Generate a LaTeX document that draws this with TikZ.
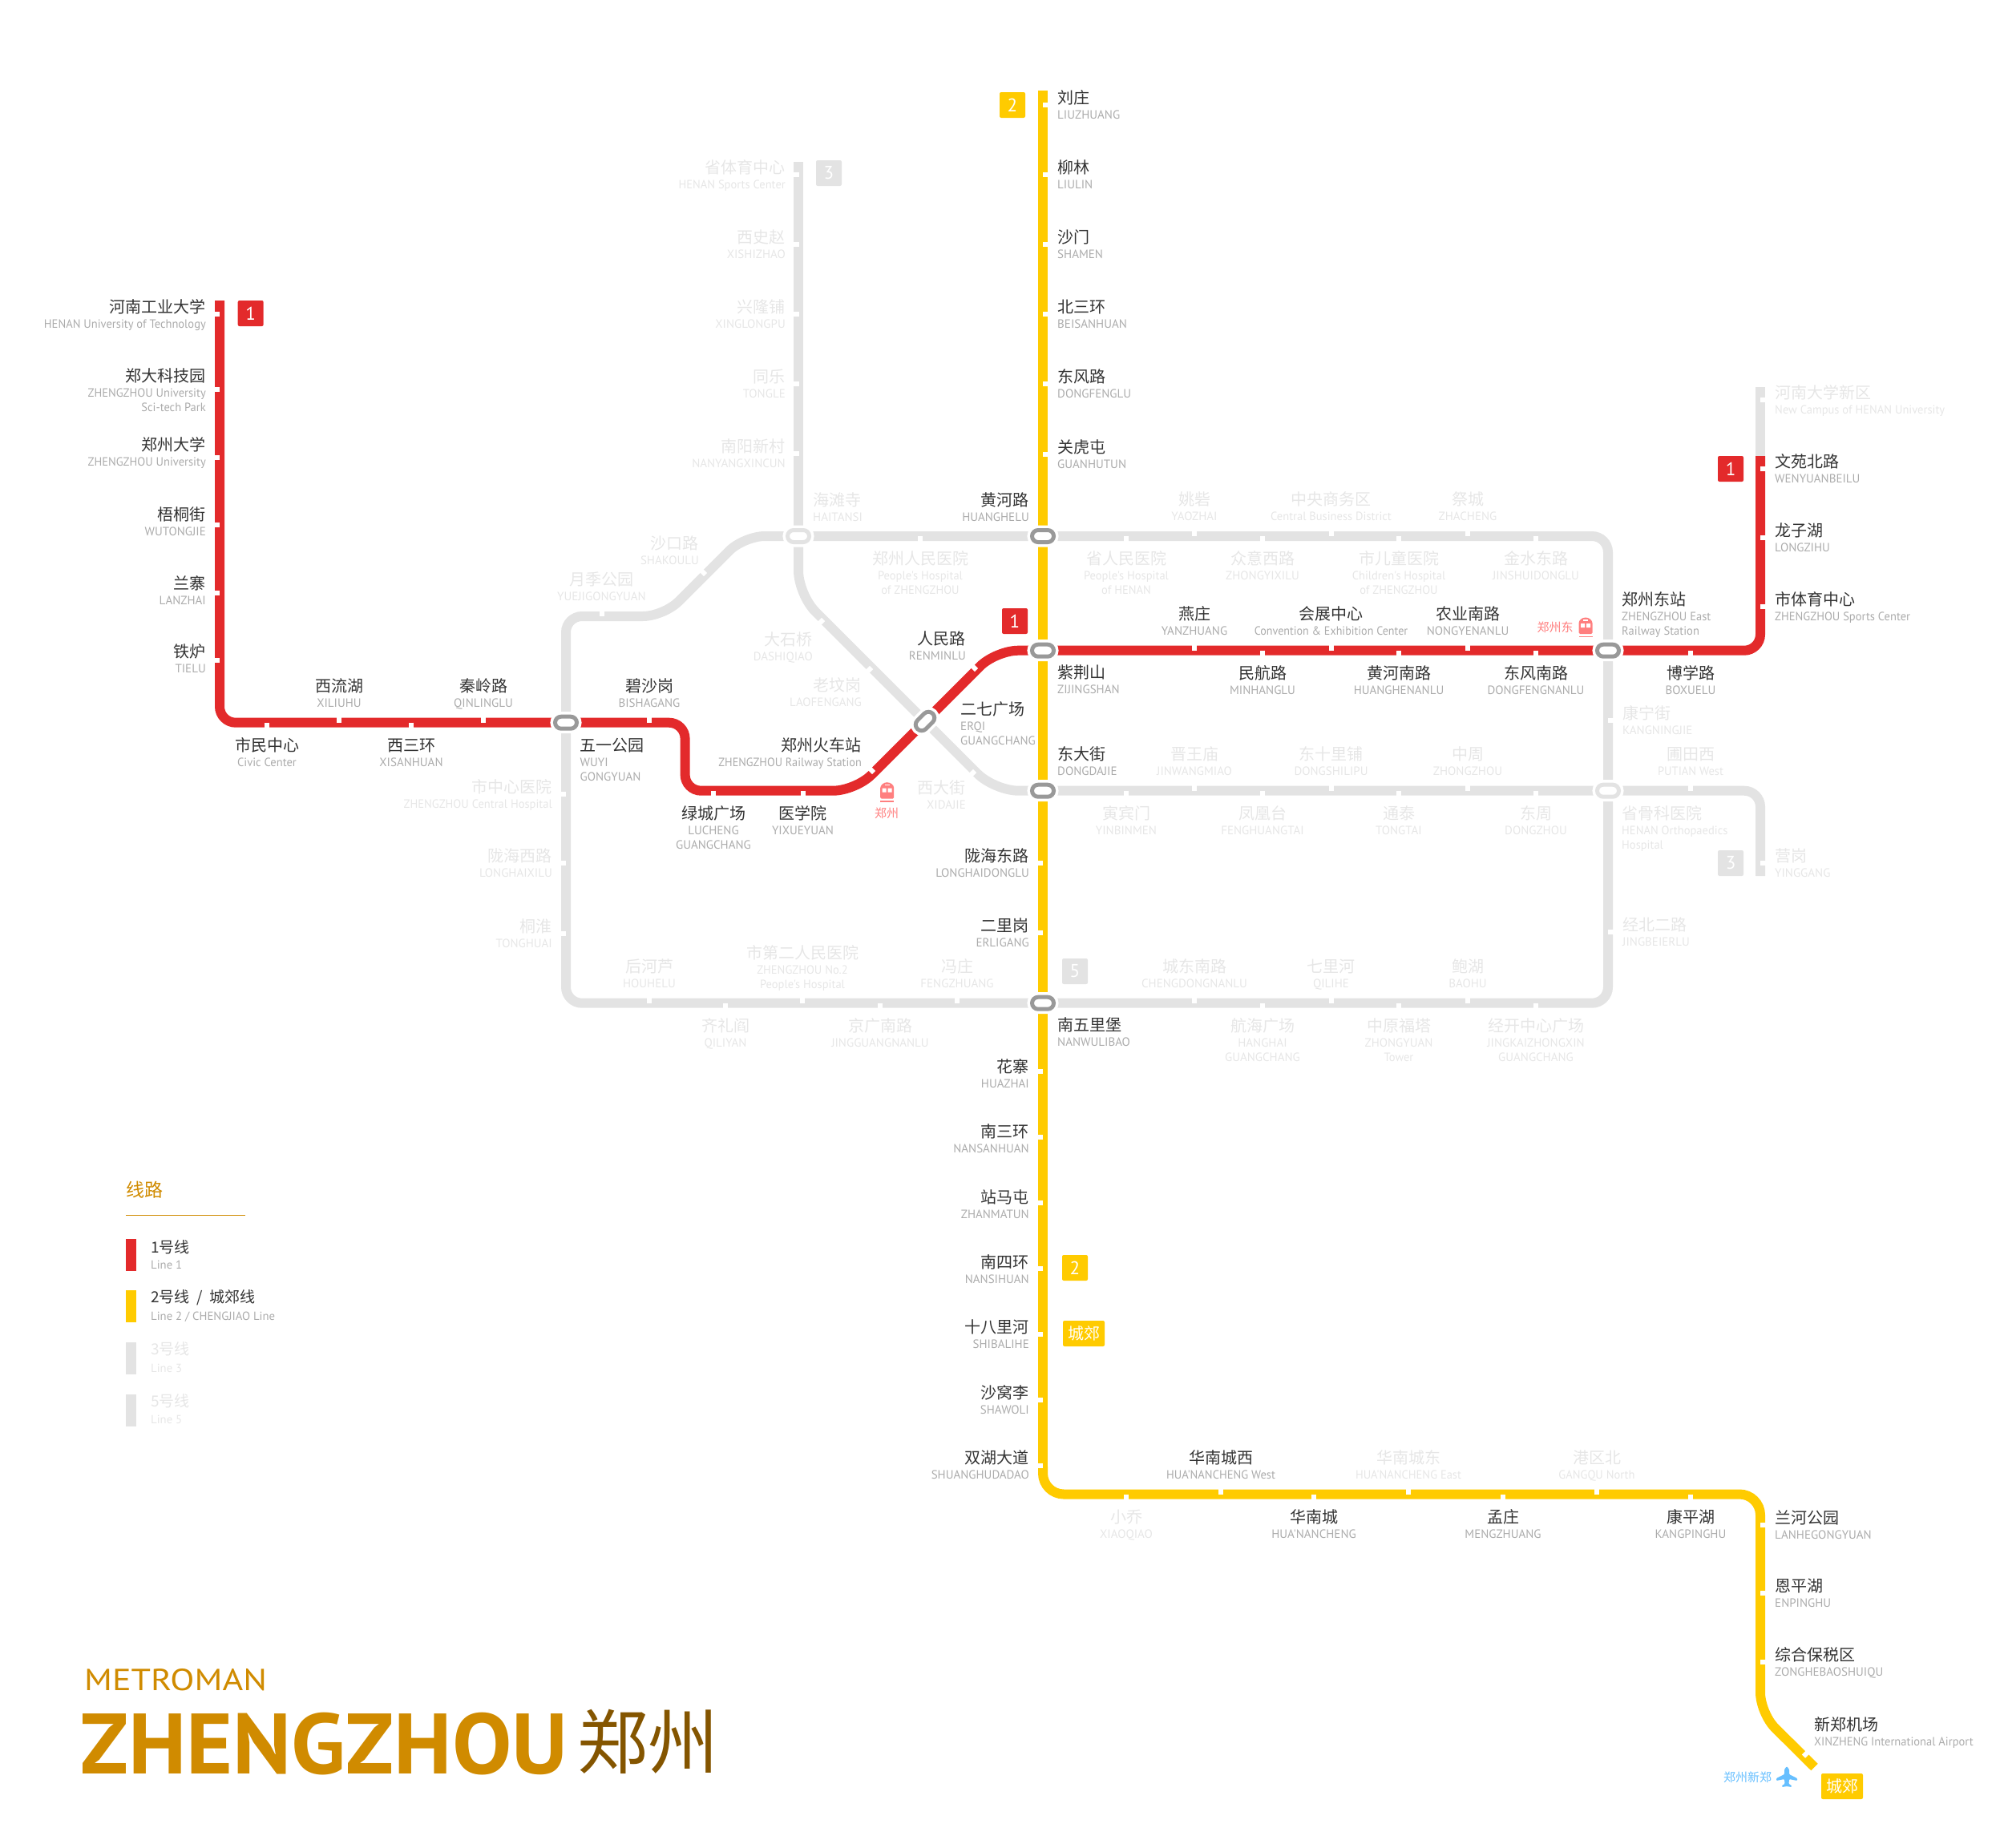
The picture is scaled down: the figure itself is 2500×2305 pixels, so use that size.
\documentclass[tikz,border=0pt]{standalone}
\usepackage{graphicx}
\usepackage{fontspec}
\newfontfamily\zhfont{Noto Sans CJK SC}
\newfontfamily\enfont{PT Sans}
\definecolor{lred}{HTML}{E32A2B}
\definecolor{lyel}{HTML}{FFCB00}
\definecolor{lgray}{HTML}{E3E3E3}
\definecolor{rgray}{HTML}{999999}
\definecolor{txta}{HTML}{333333}
\definecolor{txtb}{HTML}{ABABAB}
\definecolor{txtf}{HTML}{E6E6E6}
\definecolor{orng}{HTML}{D08B00}
\definecolor{brwn}{HTML}{845500}
\definecolor{pinkc}{HTML}{FF7F7F}
\definecolor{skyc}{HTML}{66BFFF}
\tikzset{
  route/.style={line width=12pt,rounded corners=20pt,line cap=butt},
  tickmark/.style={white,line width=6pt},
  ringa/.style={draw=rgray,fill=white,line width=5pt,minimum width=27pt,minimum height=15pt,inner sep=0pt,rounded corners=7.5pt,
     preaction={draw=white,line width=12pt}},
  ringf/.style={ringa,draw=lgray},
  cna/.style={inner sep=0pt,text=txta,font=\zhfont\fontsize{20}{24}\selectfont,text height=20pt,text depth=3pt},
  cnf/.style={cna,text=txtf},
  ena/.style={inner sep=0pt,text=txtb,font=\enfont\fontsize{15}{18}\selectfont,text height=11pt,text depth=0pt},
  enf/.style={ena,text=txtf},
  badge/.style={inner sep=0pt,minimum width=32pt,minimum height=32pt,rounded corners=2pt,text=white,font=\enfont\fontsize{23}{26}\selectfont},
  badgec/.style={inner sep=0pt,minimum width=52pt,minimum height=32pt,rounded corners=2pt,text=white,fill=lyel,font=\zhfont\fontsize{20}{24}\selectfont},
  legbar/.style={draw=none,inner sep=0pt,minimum width=13pt,minimum height=40pt},
}
\newcommand\nr[1]{\scalebox{.968}[1]{#1}}
\newcounter{lc}
% style, anchor, x, ycn, CN, EN, EN2
\newcommand\lbl[7]{\stepcounter{lc}%
  \node[cn#1,anchor=#2] (c\thelc) at (#3,#4) {#5};%
  \node[en#1,anchor=#2] (e\thelc) at (#3,#4+22) {#6};%
  \def\tmpa{#7}\ifx\tmpa\empty\else\node[en#1,anchor=#2] (g\thelc) at (#3,#4+40) {#7};\fi}
\newcommand\Up[6][]{\draw[tickmark] (#3,#4) -- ++(0,-7);\lbl{#2}{center}{#3}{#4-46.7}{#5}{#6}{#1}}
\newcommand\Dn[6][]{\draw[tickmark] (#3,#4) -- ++(0,7);\lbl{#2}{center}{#3}{#4+27}{#5}{#6}{#1}}
\newcommand\Rt[6][]{\draw[tickmark] (#3,#4) -- ++(7,0);\lbl{#2}{west}{#3+18}{#4-10.5}{#5}{#6}{#1}}
\newcommand\Lt[6][]{\draw[tickmark] (#3,#4) -- ++(-7,0);\lbl{#2}{east}{#3-17}{#4-10.5}{#5}{#6}{#1}}
% left side with separate label height: style, x, tick y, CN y, CN, EN
\newcommand\LtX[7][]{\draw[tickmark] (#3,#4) -- ++(-7,0);\lbl{#2}{east}{#3-17}{#5}{#6}{#7}{#1}}
\newcommand\train[2]{%
  \fill[pinkc,rounded corners=1.5pt] (#1-8.5,#2+10) -- (#1-8.5,#2-2) arc[start angle=180,end angle=0,radius=8.5pt] -- (#1+8.5,#2+10) -- cycle;
  \fill[white] (#1-6,#2-3) rectangle (#1-1,#2+2) (#1+1,#2-3) rectangle (#1+6,#2+2);
  \fill[white] (#1-3,#2-8) rectangle (#1+3,#2-6.5);
  \fill[pinkc] (#1-8.5,#2+12.5) rectangle (#1+8.5,#2+14);}
\begin{document}
\begin{tikzpicture}[x=1pt,y=-1pt]
\useasboundingbox (0,0) rectangle (2500,2305);
% named way points
\coordinate (hh) at (1301,669);
\coordinate (rm) at (1301,811.7);
\coordinate (dd) at (1301,986.7);
\coordinate (nw) at (1301,1251.7);
\coordinate (wy) at (706,901.7);
\coordinate (ht) at (996,669);
\coordinate (eq) at (1154,900);
\coordinate (ze) at (2006,811.7);
\coordinate (pt) at (2006,986.7);
% grey lines
\draw[route,lgray] (ht) -- (996,202);
\draw[route,lgray] (ht) [rounded corners=30pt] -- (996,742) -- (eq) -- (1240.7,986.7) -- (dd) -- (pt) [rounded corners=20pt] -- (2196,986.7) -- (2196,1093);
\draw[route,lgray] (wy) -- (706,769) [rounded corners=26pt] -- (828,769) -- (928,669) -- (ht) -- (hh) [rounded corners=20pt] -- (2006,669) -- (pt) -- (2006,1251.7) -- (nw) -- (706,1251.7) -- (wy);
\draw[route,lgray] (2196,569) -- (2196,483);
% line 2
\draw[route,lyel,rounded corners=0pt] (1301,113) -- (hh) -- (rm) -- (dd) -- (nw) -- (1301,1830);
\draw[route,lyel,rounded corners=26pt] (1301,1830) -- (1301,1864.5) -- (2196,1864.5) -- (2196,2138) -- (2263.5,2205);
% line 1
\draw[route,lred] (274,375) -- (274,901.7) -- (wy) -- (854.6,901.7) -- (854.6,986.7) [rounded corners=28pt] -- (1067.3,986.7) -- (eq) -- (1242.3,811.7) -- (rm) -- (ze) [rounded corners=20pt] -- (2196,811.7) -- (2196,569);
% line 1 stations
\LtX{a}{274}{392}{382}{河南工业大学}{\nr{HENAN University of Technology}}
\LtX[\nr{Sci-tech Park}]{a}{274}{486}{468.3}{郑大科技园}{\nr{ZHENGZHOU University}}
\LtX{a}{274}{571}{554}{郑州大学}{\nr{ZHENGZHOU University}}
\LtX{a}{274}{655}{640.5}{梧桐街}{WUTONGJIE}
\LtX{a}{274}{740}{726.5}{兰寨}{LANZHAI}
\LtX{a}{274}{824.3}{812.3}{铁炉}{TIELU}
\Dn{a}{333}{901.7}{市民中心}{\nr{Civic Center}}
\Up{a}{423}{901.7}{西流湖}{XILIUHU}
\Dn{a}{513}{901.7}{西三环}{XISANHUAN}
\Up{a}{603}{901.7}{秦岭路}{QINLINGLU}
\lbl{a}{west}{723.5}{929}{五一公园}{WUYI}{GONGYUAN}
\Up{a}{810}{901.7}{碧沙岗}{BISHAGANG}
\Dn[GUANGCHANG]{a}{890}{986.7}{绿城广场}{LUCHENG}
\Dn{a}{1001.5}{986.7}{医学院}{YIXUEYUAN}
\draw[tickmark] (1090,964) -- ++(-5,-5);
\lbl{a}{east}{1075}{929}{郑州火车站}{\scalebox{.95}[1]{ZHENGZHOU Railway Station}}{}
\draw[tickmark] (1218,836) -- ++(-5,-5);
\lbl{a}{east}{1205}{796}{人民路}{RENMINLU}{}
\lbl{a}{west}{1198}{884}{二七广场}{ERQI}{GUANGCHANG}
\lbl{a}{west}{1319}{838}{紫荆山}{ZIJINGSHAN}{}
\Up{a}{1490}{811.7}{燕庄}{YANZHUANG}
\Up{a}{1660.5}{811.7}{会展中心}{\scalebox{.94}[1]{Convention \& Exhibition Center}}
\Up{a}{1831}{811.7}{农业南路}{NONGYENANLU}
\Dn{a}{1575}{811.7}{民航路}{MINHANGLU}
\Dn{a}{1745}{811.7}{黄河南路}{HUANGHENANLU}
\Dn{a}{1916}{811.7}{东风南路}{DONGFENGNANLU}
\lbl{a}{west}{2023}{747}{郑州东站}{\nr{ZHENGZHOU East}}{\nr{Railway Station}}
\Dn{a}{2109}{811.7}{博学路}{BOXUELU}
\Rt{a}{2196}{585}{文苑北路}{WENYUANBEILU}
\Rt{a}{2196}{671}{龙子湖}{LONGZIHU}
\Rt{a}{2196}{757}{市体育中心}{\nr{ZHENGZHOU Sports Center}}
\Rt{f}{2196}{499}{河南大学新区}{\nr{New Campus of HENAN University}}
% line 2 stations
\Rt{a}{1301}{131}{刘庄}{LIUZHUANG}
\Rt{a}{1301}{218}{柳林}{LIULIN}
\Rt{a}{1301}{305}{沙门}{SHAMEN}
\Rt{a}{1301}{392}{北三环}{BEISANHUAN}
\Rt{a}{1301}{479}{东风路}{DONGFENGLU}
\Rt{a}{1301}{567}{关虎屯}{GUANHUTUN}
\lbl{a}{east}{1284}{623}{黄河路}{HUANGHELU}{}
\lbl{a}{west}{1319}{940}{东大街}{DONGDAJIE}{}
\Lt{a}{1301}{1077}{陇海东路}{LONGHAIDONGLU}
\Lt{a}{1301}{1164}{二里岗}{ERLIGANG}
\lbl{a}{west}{1319}{1278}{南五里堡}{NANWULIBAO}{}
\LtX{a}{1301}{1337}{1330}{花寨}{HUAZHAI}
\LtX{a}{1301}{1419}{1411}{南三环}{NANSANHUAN}
\LtX{a}{1301}{1500.7}{1492.5}{站马屯}{ZHANMATUN}
\LtX{a}{1301}{1582.7}{1574}{南四环}{NANSIHUAN}
\LtX{a}{1301}{1665}{1655}{十八里河}{SHIBALIHE}
\LtX{a}{1301}{1747}{1736.5}{沙窝李}{SHAWOLI}
\LtX{a}{1301}{1829}{1818}{双湖大道}{SHUANGHUDADAO}
\Up{a}{1523}{1864.5}{华南城西}{\nr{HUA'NANCHENG West}}
\Up{f}{1757}{1864.5}{华南城东}{\nr{HUA'NANCHENG East}}
\Up{f}{1992}{1864.5}{港区北}{\nr{GANGQU North}}
\Dn{f}{1405}{1864.5}{小乔}{XIAOQIAO}
\Dn{a}{1639}{1864.5}{华南城}{HUA'NANCHENG}
\Dn{a}{1875}{1864.5}{孟庄}{MENGZHUANG}
\Dn{a}{2109}{1864.5}{康平湖}{KANGPINGHU}
\Rt{a}{2196}{1903}{兰河公园}{LANHEGONGYUAN}
\Rt{a}{2196}{1988}{恩平湖}{ENPINGHU}
\Rt{a}{2196}{2074}{综合保税区}{ZONGHEBAOSHUIQU}
\draw[tickmark] (2250,2191.5) -- ++(5,-5);
\lbl{a}{west}{2263}{2151}{新郑机场}{\nr{XINZHENG International Airport}}{}
% line 3 stations
\LtX{f}{997}{218}{207.5}{省体育中心}{\nr{HENAN Sports Center}}
\LtX{f}{997}{305}{294.5}{西史赵}{XISHIZHAO}
\LtX{f}{997}{392}{381.5}{兴隆铺}{XINGLONGPU}
\LtX{f}{997}{479}{468.5}{同乐}{TONGLE}
\LtX{f}{997}{566}{555.5}{南阳新村}{NANYANGXINCUN}
\lbl{f}{west}{1014}{623}{海滩寺}{HAITANSI}{}
\draw[tickmark] (1027,773) -- ++(-5,5);
\lbl{f}{east}{1014}{797}{大石桥}{DASHIQIAO}{}
\draw[tickmark] (1087,833) -- ++(-5,5);
\lbl{f}{east}{1075}{854}{老坟岗}{LAOFENGANG}{}
\draw[tickmark] (1216,962) -- ++(-5,5);
\lbl{f}{east}{1205}{982}{西大街}{XIDAJIE}{}
\Up{f}{1490}{986.7}{晋王庙}{JINWANGMIAO}
\Up{f}{1660.5}{986.7}{东十里铺}{DONGSHILIPU}
\Up{f}{1831}{986.7}{中周}{ZHONGZHOU}
\Dn{f}{1405}{986.7}{寅宾门}{YINBINMEN}
\Dn{f}{1575}{986.7}{凤凰台}{FENGHUANGTAI}
\Dn{f}{1745}{986.7}{通泰}{TONGTAI}
\Dn{f}{1916}{986.7}{东周}{DONGZHOU}
\Rt{f}{2006}{899}{康宁街}{KANGNINGJIE}
\Up{f}{2109}{986.7}{圃田西}{\nr{PUTIAN West}}
\lbl{f}{west}{2023}{1014}{省骨科医院}{\nr{HENAN Orthopaedics}}{\nr{Hospital}}
\Rt{f}{2196}{1077}{营岗}{YINGGANG}
% line 5 stations
\Up{f}{1490}{669}{姚砦}{YAOZHAI}
\Up{f}{1660.5}{669}{中央商务区}{\nr{Central Business District}}
\Up{f}{1831}{669}{祭城}{ZHACHENG}
\Dn[\nr{of ZHENGZHOU}]{f}{1148}{669}{郑州人民医院}{\nr{People's Hospital}}
\Dn[\nr{of HENAN}]{f}{1405}{669}{省人民医院}{\nr{People's Hospital}}
\Dn{f}{1575}{669}{众意西路}{ZHONGYIXILU}
\Dn[\nr{of ZHENGZHOU}]{f}{1745}{669}{市儿童医院}{\nr{Children's Hospital}}
\Dn{f}{1916}{669}{金水东路}{JINSHUIDONGLU}
\draw[tickmark] (880,717) -- ++(-5,-5);
\lbl{f}{east}{872}{677}{沙口路}{SHAKOULU}{}
\Up{f}{750.5}{769}{月季公园}{YUEJIGONGYUAN}
\Lt{f}{706}{991}{市中心医院}{\nr{ZHENGZHOU Central Hospital}}
\Lt{f}{706}{1077}{陇海西路}{LONGHAIXILU}
\Lt{f}{706}{1165}{桐淮}{TONGHUAI}
\Up{f}{810}{1251.7}{后河芦}{HOUHELU}
\draw[tickmark] (1001,1251.7) -- ++(0,-7);
\lbl{f}{center}{1001}{1188}{市第二人民医院}{\nr{ZHENGZHOU No.2}}{\nr{People's Hospital}}
\Up{f}{1194}{1251.7}{冯庄}{FENGZHUANG}
\Dn{f}{905}{1251.7}{齐礼阎}{QILIYAN}
\Dn{f}{1098}{1251.7}{京广南路}{JINGGUANGNANLU}
\Up{f}{1490}{1251.7}{城东南路}{CHENGDONGNANLU}
\Up{f}{1660.5}{1251.7}{七里河}{QILIHE}
\Up{f}{1831}{1251.7}{鲍湖}{BAOHU}
\Dn[GUANGCHANG]{f}{1575}{1251.7}{航海广场}{HANGHAI}
\Dn[\nr{Tower}]{f}{1745}{1251.7}{中原福塔}{ZHONGYUAN}
\Dn[GUANGCHANG]{f}{1916}{1251.7}{经开中心广场}{JINGKAIZHONGXIN}
\Rt{f}{2006}{1163}{经北二路}{JINGBEIERLU}
% interchange rings
\node[ringa] (r1) at (hh) {};
\node[ringa] (r2) at (rm) {};
\node[ringa] (r3) at (dd) {};
\node[ringa] (r4) at (nw) {};
\node[ringa] (r5) at (wy) {};
\node[ringa] (r6) at (ze) {};
\node[ringf] (r7) at (ht) {};
\node[ringf] (r8) at (pt) {};
\node[ringa,rotate=45] (r9) at (eq) {};
% line badges
\node[badge,fill=lred] (b1) at (312.7,391) {1};
\node[badge,fill=lred] (b2) at (1266,775) {1};
\node[badge,fill=lred] (b3) at (2159,585) {1};
\node[badge,fill=lyel] (b4) at (1263,131) {2};
\node[badge,fill=lyel] (b5) at (1341,1582) {2};
\node[badge,fill=lgray] (b6) at (1034,216) {3};
\node[badge,fill=lgray] (b7) at (2159,1077) {3};
\node[badge,fill=lgray] (b8) at (1341,1212) {5};
\node[badgec] (b9) at (1352,1664) {城郊};
\node[badgec] (b10) at (2298,2229) {城郊};
% rail and air icons
\train{1978}{781}
\node[text=pinkc,font=\zhfont\fontsize{15}{18}\selectfont,inner sep=0pt] (t1) at (1940,783) {郑州东};
\train{1106.7}{986.7}
\node[text=pinkc,font=\zhfont\fontsize{15}{18}\selectfont,inner sep=0pt] (t2) at (1106,1015) {郑州};
\node[text=skyc,font=\zhfont\fontsize{15}{18}\selectfont,inner sep=0pt] (t3) at (2180,2218) {郑州新郑};
\fill[skyc,rounded corners=1pt] (2229,2204) -- (2232,2208) -- (2232,2214) -- (2242,2219) -- (2242,2222) -- (2232,2220) -- (2231.5,2226) -- (2235,2228) -- (2235,2230) -- (2229,2229) -- (2223,2230) -- (2223,2228) -- (2226.5,2226) -- (2226,2220) -- (2216,2222) -- (2216,2219) -- (2226,2214) -- (2226,2208) -- cycle;
% legend
\node[text=orng,font=\zhfont\fontsize{23}{26}\selectfont,inner sep=0pt,anchor=west] (lt) at (157,1485) {线路};
\coordinate (la) at (157,1516);
\coordinate (lb) at (306,1516);
\draw[orng,line width=1pt] (la) -- (lb);
\tikzset{legc/.style={inner sep=0pt,anchor=west,font=\zhfont\fontsize{19}{22}\selectfont},lege/.style={inner sep=0pt,anchor=west,font=\enfont\fontsize{14.7}{17}\selectfont,text height=10pt,text depth=0pt}}
\node[legbar,fill=lred] (l1) at (163.5,1565.5) {};
\node[legbar,fill=lyel] (l2) at (163.5,1630) {};
\node[legbar,fill=lgray] (l3) at (163.5,1695) {};
\node[legbar,fill=lgray] (l4) at (163.5,1760) {};
\node[legc,text=txta] (lc1) at (188,1556) {1号线};
\node[lege,text=txtb] (le1) at (188,1578) {Line 1};
\node[legc,text=txta] (lc2) at (188,1619) {2号线\ \ /\ \ 城郊线};
\node[lege,text=txtb] (le2) at (188,1642) {Line 2 / CHENGJIAO Line};
\node[legc,text=txtf] (lc3) at (188,1683) {3号线};
\node[lege,text=txtf] (le3) at (188,1707) {Line 3};
\node[legc,text=txtf] (lc4) at (188,1748) {5号线};
\node[lege,text=txtf] (le4) at (188,1771) {Line 5};
% title
\node[text=orng,font=\enfont\fontsize{38}{44}\selectfont,inner sep=0pt,anchor=west,text height=27pt,text depth=0pt] (tt1) at (105,2096) {\scalebox{1.16}[1]{METROMAN}};
\node[text=orng,font=\enfont\bfseries\fontsize{107}{120}\selectfont,inner sep=0pt,anchor=west,text height=75pt,text depth=0pt] (tt2) at (100,2176) {\scalebox{1.04}[1]{ZHENGZHOU}};
\node[text=brwn,font=\zhfont\fontsize{88}{100}\selectfont,inner sep=0pt] (tt3) at (808,2173) {郑州};
\end{tikzpicture}
\end{document}
